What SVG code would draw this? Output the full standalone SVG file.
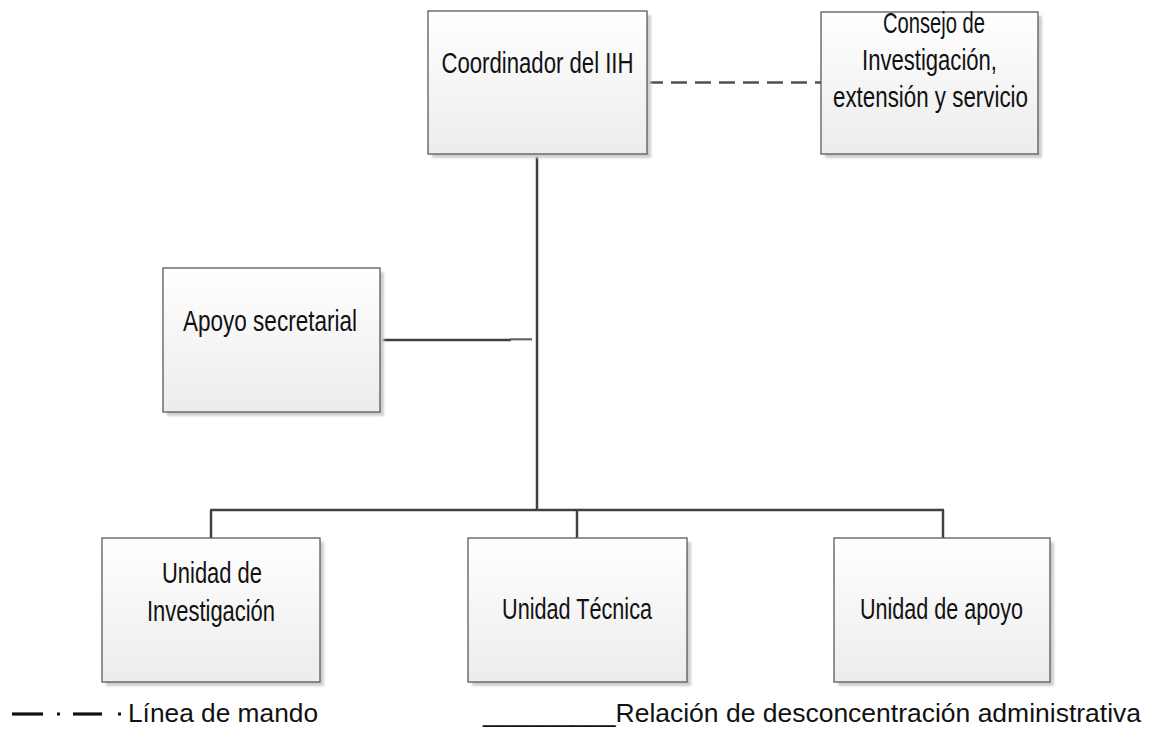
<svg xmlns="http://www.w3.org/2000/svg" width="1152" height="738" viewBox="0 0 1152 738">
<defs>
<linearGradient id="boxfill" x1="0" y1="0" x2="0" y2="1">
<stop offset="0" stop-color="#ffffff"/>
<stop offset="1" stop-color="#ececec"/>
</linearGradient>
<filter id="soft" x="-5%" y="-5%" width="115%" height="115%">
<feGaussianBlur stdDeviation="1.2"/>
</filter>
</defs>
<style>
.shadow{fill:#cfcfcf;filter:url(#soft)}
.box{fill:url(#boxfill);stroke:#5a5a5a;stroke-width:1.3}
.lbl{font-family:"Liberation Sans Narrow","Liberation Sans",Arial,sans-serif;font-size:30px;fill:#111;text-anchor:middle}
.conn{stroke:#404040;stroke-width:2.5;fill:none}
.legend{font-family:"Liberation Sans",Arial,sans-serif;font-size:25px;fill:#111}
</style>
<rect width="1152" height="738" fill="#ffffff"/>

<g id="connectors">
<line class="conn" x1="537" y1="154" x2="537" y2="511"/>
<line class="conn" x1="210" y1="510" x2="944" y2="510"/>
<line class="conn" x1="211" y1="510" x2="211" y2="538"/>
<line class="conn" x1="577" y1="510" x2="577" y2="538"/>
<line class="conn" x1="943" y1="510" x2="943" y2="538"/>
<line class="conn" x1="380" y1="340" x2="511" y2="340"/>
<line x1="510" y1="339.3" x2="532" y2="339.3" stroke="#666" stroke-width="2.2"/>
<line x1="647" y1="82.5" x2="821" y2="82.5" stroke="#505050" stroke-width="2.5" stroke-dasharray="16 8"/>
</g>

<g id="coordinador">
<rect class="shadow" x="432" y="15" width="219" height="143"/>
<rect class="box" x="428" y="11" width="219" height="143"/>
<text class="lbl" x="537.5" y="73" textLength="192" lengthAdjust="spacingAndGlyphs">Coordinador del IIH</text>
</g>

<g id="consejo">
<rect class="shadow" x="825" y="16" width="217" height="142"/>
<rect class="box" x="821" y="12" width="217" height="142"/>
<text class="lbl" x="934" y="33" textLength="102" lengthAdjust="spacingAndGlyphs">Consejo de</text>
<text class="lbl" x="929.5" y="70" textLength="135" lengthAdjust="spacingAndGlyphs">Investigación,</text>
<text class="lbl" x="930.5" y="107" textLength="195" lengthAdjust="spacingAndGlyphs">extensión y servicio</text>
</g>

<g id="apoyo-secretarial">
<rect class="shadow" x="167" y="272" width="217" height="144"/>
<rect class="box" x="163" y="268" width="217" height="144"/>
<text class="lbl" x="270" y="331" textLength="174" lengthAdjust="spacingAndGlyphs">Apoyo secretarial</text>
</g>

<g id="unidad-investigacion">
<rect class="shadow" x="106" y="542" width="218" height="144"/>
<rect class="box" x="102" y="538" width="218" height="144"/>
<text class="lbl" x="212" y="583" textLength="100" lengthAdjust="spacingAndGlyphs">Unidad de</text>
<text class="lbl" x="211" y="621" textLength="128" lengthAdjust="spacingAndGlyphs">Investigación</text>
</g>

<g id="unidad-tecnica">
<rect class="shadow" x="472" y="542" width="219" height="144"/>
<rect class="box" x="468" y="538" width="219" height="144"/>
<text class="lbl" x="577" y="619" textLength="150" lengthAdjust="spacingAndGlyphs">Unidad Técnica</text>
</g>

<g id="unidad-apoyo">
<rect class="shadow" x="838" y="542" width="216" height="144"/>
<rect class="box" x="834" y="538" width="216" height="144"/>
<text class="lbl" x="941.5" y="619" textLength="163" lengthAdjust="spacingAndGlyphs">Unidad de apoyo</text>
</g>

<g id="legend">
<line x1="12" y1="714" x2="43" y2="714" stroke="#111" stroke-width="3.2"/>
<rect x="57" y="712.5" width="3" height="3" fill="#111"/>
<line x1="73" y1="714" x2="102" y2="714" stroke="#111" stroke-width="3.2"/>
<rect x="118" y="712.5" width="3" height="3" fill="#111"/>
<text class="legend" x="128" y="722" textLength="190" lengthAdjust="spacingAndGlyphs">Línea de mando</text>
<text class="legend" x="483" y="722" textLength="658" lengthAdjust="spacingAndGlyphs">_________Relación de desconcentración administrativa</text>
</g>
</svg>
